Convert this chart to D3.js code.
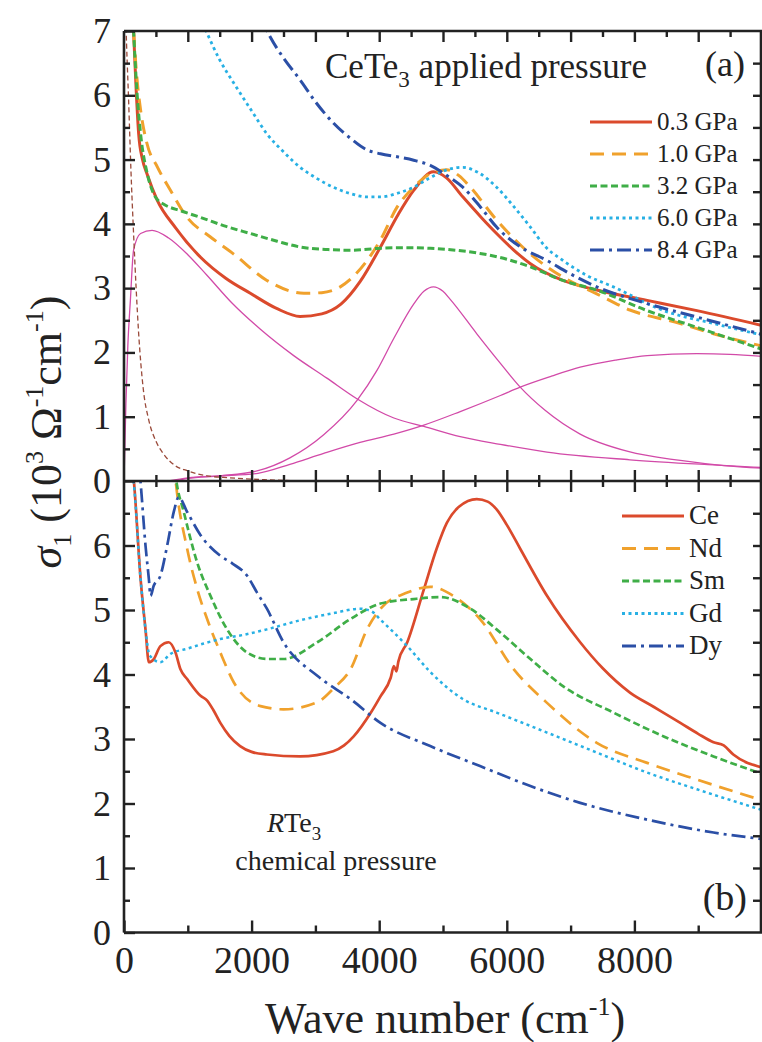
<!DOCTYPE html>
<html>
<head>
<meta charset="utf-8">
<script src="https://cdn.jsdelivr.net/npm/d3@7"></script>
<style>
  body { margin: 0; background: #fff; }
  svg text { font-family: "Liberation Serif", "Times New Roman", serif; fill: #222; }
</style>
</head>
<body>
<div id="chart"></div>
<script>
// panel (a): CeTe3 under applied pressure, [wave number cm-1, sigma1 (10^3 /ohm cm)]
var p03 = [[100,8.0],[150,7.0],[190,6.1],[230,5.4],[290,5.0],[360,4.78],[520,4.37],[800,3.95],[1200,3.48],[1600,3.15],[1980,2.92],[2400,2.68],[2760,2.56],[3100,2.6],[3400,2.75],[3700,3.1],[4020,3.64],[4300,4.15],[4540,4.52],[4850,4.81],[5050,4.72],[5310,4.42],[5600,4.1],[5840,3.85],[6100,3.6],[6370,3.38],[6880,3.12],[7410,2.97],[8200,2.81],[8980,2.65],[10000,2.42]];
var p10 = [[100,8.0],[150,7.0],[200,6.3],[260,5.77],[360,5.25],[520,4.89],[730,4.52],[990,4.1],[1350,3.8],[1720,3.53],[2240,3.12],[2820,2.92],[3100,2.93],[3390,3.02],[3810,3.43],[4020,3.75],[4280,4.26],[4540,4.57],[4800,4.78],[5060,4.84],[5250,4.75],[5420,4.58],[5840,4.06],[6370,3.53],[6880,3.17],[7410,2.91],[7930,2.66],[8720,2.45],[9240,2.29],[10000,2.1]];
var p32 = [[100,8.0],[150,7.0],[200,6.1],[260,5.4],[360,4.8],[450,4.5],[520,4.38],[630,4.3],[900,4.2],[1200,4.1],[1600,3.96],[1980,3.85],[2400,3.73],[2760,3.64],[3200,3.6],[3540,3.59],[4020,3.62],[4400,3.63],[4800,3.62],[5200,3.59],[5580,3.54],[6000,3.45],[6370,3.33],[6880,3.12],[7410,2.97],[8200,2.65],[8980,2.39],[10000,2.05]];
var p60 = [[1150,7.3],[1300,6.97],[1500,6.55],[1720,6.19],[2000,5.76],[2240,5.4],[2500,5.12],[2760,4.88],[3000,4.72],[3280,4.57],[3550,4.47],[3810,4.42],[4020,4.42],[4300,4.48],[4540,4.57],[4800,4.72],[5060,4.84],[5310,4.88],[5550,4.8],[5840,4.57],[6100,4.28],[6370,3.95],[6600,3.65],[6880,3.43],[7250,3.2],[7670,3.02],[8460,2.65],[9240,2.45],[10000,2.27]];
var p84 = [[2100,7.3],[2290,6.91],[2500,6.58],[2760,6.24],[3000,5.9],[3280,5.57],[3550,5.33],[3810,5.15],[4020,5.09],[4300,5.04],[4540,4.99],[4800,4.91],[5050,4.76],[5310,4.57],[5580,4.27],[5840,3.95],[6200,3.65],[6630,3.43],[7000,3.22],[7410,3.02],[8200,2.76],[8980,2.55],[10000,2.28]];

// fit components of the 0.3 GPa spectrum
var lorA = [[0,0],[30,1.2],[60,2.1],[100,2.81],[150,3.59],[260,3.85],[440,3.9],[700,3.78],[1000,3.52],[1300,3.2],[1700,2.76],[2138,2.36],[2660,1.95],[3180,1.6],[3650,1.28],[4230,0.98],[4700,0.85],[5270,0.69],[5900,0.57],[6630,0.45],[7930,0.33],[9240,0.25],[10000,0.21]];
var lorB = [[800,0.0],[1000,0.04],[1500,0.08],[2100,0.16],[2600,0.36],[3130,0.72],[3650,1.25],[3965,1.72],[4230,2.22],[4540,2.75],[4700,2.95],[4850,3.02],[5000,2.95],[5110,2.83],[5530,2.29],[5900,1.83],[6210,1.46],[6600,1.1],[7150,0.73],[7900,0.46],[8720,0.32],[9400,0.24],[10000,0.2]];
var lorC = [[700,0.0],[1000,0.05],[1500,0.08],[2100,0.12],[2600,0.26],[3130,0.43],[3700,0.6],[4230,0.73],[4700,0.87],[5270,1.08],[5900,1.33],[6210,1.46],[6700,1.63],[7150,1.77],[7700,1.88],[8200,1.95],[8980,1.98],[9500,1.97],[10000,1.94]];
var drude = [[10,7.8],[40,6.8],[72,5.93],[110,4.8],[150,3.85],[190,3.0],[230,2.29],[300,1.45],[390,0.94],[500,0.62],[620,0.42],[800,0.24],[990,0.16],[1300,0.08],[1660,0.05],[2200,0.02],[2800,0.0]];

// panel (b): RTe3, chemical pressure
var ce = [[120,7.3],[150,7.05],[260,5.48],[337,4.7],[390,4.19],[467,4.24],[570,4.44],[700,4.5],[807,4.34],[885,4.08],[990,3.93],[1200,3.67],[1300,3.6],[1400,3.45],[1510,3.25],[1650,3.05],[1820,2.89],[2000,2.8],[2240,2.76],[2760,2.73],[3280,2.81],[3450,2.9],[3600,3.04],[3870,3.41],[4020,3.66],[4180,3.95],[4230,4.13],[4270,4.05],[4300,4.2],[4440,4.5],[4700,5.32],[4900,5.95],[5060,6.35],[5250,6.6],[5530,6.72],[5700,6.68],[5840,6.56],[6000,6.32],[6210,5.95],[6630,5.22],[7150,4.5],[7500,4.1],[7930,3.72],[8300,3.5],[8720,3.25],[9000,3.08],[9240,2.95],[9400,2.9],[9550,2.76],[10000,2.56]];
var nd = [[780,7.3],[810,7.0],[990,5.95],[1146,5.33],[1303,4.86],[1510,4.34],[1720,3.88],[2140,3.51],[2500,3.46],[3030,3.57],[3300,3.8],[3550,4.08],[3810,4.7],[4020,5.02],[4440,5.27],[4800,5.36],[5160,5.22],[5580,4.86],[6110,4.08],[6630,3.56],[7410,2.94],[8200,2.63],[8980,2.37],[10000,2.05]];
var sm = [[780,7.3],[820,7.0],[937,6.52],[1146,5.74],[1355,5.22],[1616,4.7],[1930,4.34],[2250,4.24],[2500,4.24],[3030,4.5],[3550,4.86],[4020,5.1],[4540,5.17],[4960,5.2],[5430,5.02],[5840,4.7],[6370,4.24],[6880,3.82],[7670,3.41],[8460,3.04],[9240,2.73],[10000,2.46]];
var gd = [[100,7.3],[150,7.0],[260,5.48],[337,4.7],[400,4.3],[570,4.19],[730,4.32],[990,4.4],[1250,4.48],[1510,4.55],[1900,4.62],[2240,4.7],[2760,4.84],[3280,4.95],[3700,5.02],[3880,4.98],[4020,4.85],[4440,4.44],[4800,4.04],[5310,3.62],[5840,3.41],[6630,3.1],[7410,2.79],[8200,2.48],[8980,2.22],[10000,1.9]];
var dy = [[230,7.3],[258,7.0],[337,6.0],[390,5.48],[415,5.22],[467,5.38],[570,5.53],[677,6.0],[780,6.52],[858,6.75],[990,6.52],[1200,6.16],[1510,5.84],[1700,5.72],[1930,5.53],[2085,5.27],[2240,5.02],[2500,4.5],[3030,3.98],[3550,3.62],[4020,3.25],[4800,2.89],[5580,2.58],[6370,2.27],[7150,2.01],[8200,1.75],[9240,1.55],[10000,1.45]];

var labelsA = ["0.3 GPa", "1.0 GPa", "3.2 GPa", "6.0 GPa", "8.4 GPa"];
var labelsB = ["Ce", "Nd", "Sm", "Gd", "Dy"];
var yTicksA = [0, 1, 2, 3, 4, 5, 6, 7];
var yTicksB = [0, 1, 2, 3, 4, 5, 6];
var xTickLabels = [0, 2000, 4000, 6000, 8000];

var width = 762, height = 1042;
var pLeft = 124, pRight = 762, pTop = 31, pMid = 481, pBottom = 932.5;

var colors = ["#db4a2c", "#f0a12c", "#3fae47", "#27b0e4", "#2b4fa6"];
var dashes = [null, "14,8", "7,3.5", "3,3.5", "14,5,3,5"];
var widths = [3, 3, 3, 2.8, 3];

var x = d3.scaleLinear().domain([0, 10000]).range([pLeft, pRight]);
var yA = d3.scaleLinear().domain([0, 7]).range([pMid, pTop]);
var yB = d3.scaleLinear().domain([0, 7]).range([pBottom, pMid]);

var svg = d3.select("#chart").append("svg")
    .attr("width", width)
    .attr("height", height);

svg.append("clipPath").attr("id", "clipA")
  .append("rect").attr("x", pLeft).attr("y", pTop).attr("width", pRight - pLeft).attr("height", pMid - pTop);
svg.append("clipPath").attr("id", "clipB")
  .append("rect").attr("x", pLeft).attr("y", pMid).attr("width", pRight - pLeft).attr("height", pBottom - pMid);

function lineFor(y) {
  return d3.line()
    .x(function(d) { return x(d[0]); })
    .y(function(d) { return y(d[1]); })
    .curve(d3.curveMonotoneX);
}

var gA = svg.append("g").attr("clip-path", "url(#clipA)");
var gB = svg.append("g").attr("clip-path", "url(#clipB)");

// fit components first (thin)
[lorA, lorB, lorC].forEach(function(s) {
  gA.append("path").attr("d", lineFor(yA)(s))
    .attr("fill", "none").attr("stroke", "#d24aa8").attr("stroke-width", 1.3);
});
gA.append("path").attr("d", lineFor(yA)(drude))
  .attr("fill", "none").attr("stroke", "#9a4a3a").attr("stroke-width", 1.3)
  .attr("stroke-dasharray", "5,3");

[p03, p10, p32, p60, p84].forEach(function(s, i) {
  gA.append("path").attr("d", lineFor(yA)(s))
    .attr("fill", "none").attr("stroke", colors[i]).attr("stroke-width", widths[i])
    .attr("stroke-dasharray", dashes[i]);
});
[ce, nd, sm, gd, dy].forEach(function(s, i) {
  gB.append("path").attr("d", lineFor(yB)(s))
    .attr("fill", "none").attr("stroke", colors[i]).attr("stroke-width", widths[i] - 0.3)
    .attr("stroke-dasharray", dashes[i]);
});

// axes
function styleAxis(g) {
  g.attr("font-family", null);
  g.selectAll("path.domain").remove();
  g.selectAll("line").attr("stroke", "#222").attr("stroke-width", 2.4);
  g.selectAll("text").attr("fill", "#222");
}
function tickRange(a, b, step) { return d3.range(a, b + 1e-9, step); }

// y axes
[[yA, yTicksA], [yB, yTicksB]].forEach(function(c) {
  var y = c[0];
  svg.append("g").attr("transform", "translate(" + pLeft + ",0)")
    .call(d3.axisLeft(y).tickValues(tickRange(0.5, 6.5, 1)).tickSize(-6).tickFormat(""))
    .call(styleAxis);
  svg.append("g").attr("transform", "translate(" + pLeft + ",0)")
    .call(d3.axisLeft(y).tickValues(c[1]).tickSize(-11).tickPadding(13).tickFormat(d3.format("d")))
    .call(styleAxis)
    .selectAll("text").attr("font-size", 36);
  svg.append("g").attr("transform", "translate(" + pRight + ",0)")
    .call(d3.axisRight(y).tickValues(tickRange(0.5, 6.5, 0.5)).tickSize(-9).tickFormat(""))
    .call(styleAxis);
});

// x axes: top of (a), middle boundary, bottom of (b)
svg.append("g").attr("transform", "translate(0," + pTop + ")")
  .call(d3.axisTop(x).tickValues(tickRange(500, 9500, 1000)).tickSize(-6).tickFormat(""))
  .call(styleAxis);
svg.append("g").attr("transform", "translate(0," + pTop + ")")
  .call(d3.axisTop(x).tickValues(tickRange(1000, 9000, 1000)).tickSize(-11).tickFormat(""))
  .call(styleAxis);
[-1, 1].forEach(function(dir) {
  svg.append("g").attr("transform", "translate(0," + pMid + ")")
    .call(d3.axisTop(x).tickValues(tickRange(500, 9500, 1000)).tickSize(6 * dir).tickFormat(""))
    .call(styleAxis);
  svg.append("g").attr("transform", "translate(0," + pMid + ")")
    .call(d3.axisTop(x).tickValues(tickRange(1000, 9000, 1000)).tickSize(11 * dir).tickFormat(""))
    .call(styleAxis);
});
svg.append("g").attr("transform", "translate(0," + pBottom + ")")
  .call(d3.axisBottom(x).tickValues(tickRange(1000, 9000, 2000)).tickSize(-7).tickFormat(""))
  .call(styleAxis);
svg.append("g").attr("transform", "translate(0," + pBottom + ")")
  .call(d3.axisBottom(x).tickValues(xTickLabels).tickSize(-12).tickPadding(14).tickFormat(d3.format("d")))
  .call(styleAxis)
  .selectAll("text").attr("font-size", 38);

// frame
var frame = svg.append("g").attr("stroke", "#222").attr("stroke-width", 2.6).attr("fill", "none");
frame.append("line").attr("x1", pLeft).attr("x2", pLeft).attr("y1", pTop).attr("y2", pBottom);
frame.append("line").attr("x1", pRight - 1).attr("x2", pRight - 1).attr("y1", pTop).attr("y2", pBottom);
frame.append("line").attr("x1", pLeft).attr("x2", pRight).attr("y1", pTop).attr("y2", pTop);
frame.append("line").attr("x1", pLeft).attr("x2", pRight).attr("y1", pMid).attr("y2", pMid);
frame.append("line").attr("x1", pLeft).attr("x2", pRight).attr("y1", pBottom).attr("y2", pBottom);

// legends
function legend(labels, lx, ly0, step, fs, sw) {
  labels.forEach(function(t, i) {
    var yy = ly0 + i * step;
    svg.append("line").attr("x1", lx).attr("x2", lx + 62).attr("y1", yy - 8).attr("y2", yy - 8)
      .attr("stroke", colors[i]).attr("stroke-width", sw[i]).attr("stroke-dasharray", dashes[i]);
    svg.append("text").attr("x", lx + 67).attr("y", yy).attr("font-size", fs).text(t);
  });
}
legend(labelsA, 590, 130, 32, 25, widths);
legend(labelsB, 622, 524, 32.5, 27, widths);

// panel annotations
var ta = svg.append("text").attr("x", 325).attr("y", 78).attr("font-size", 35);
ta.append("tspan").text("CeTe");
ta.append("tspan").attr("font-size", 23).attr("dy", 9).text("3");
ta.append("tspan").attr("dy", -9).text(" applied pressure");
svg.append("text").attr("x", 745).attr("y", 76).attr("text-anchor", "end").attr("font-size", 36).text("(a)");
svg.append("text").attr("x", 747).attr("y", 910).attr("text-anchor", "end").attr("font-size", 38).text("(b)");

var tb = svg.append("text").attr("x", 267).attr("y", 832).attr("font-size", 28);
tb.append("tspan").attr("font-style", "italic").text("R");
tb.append("tspan").text("Te");
tb.append("tspan").attr("font-size", 19).attr("dy", 8).text("3");
svg.append("text").attr("x", 336).attr("y", 870).attr("text-anchor", "middle").attr("font-size", 28).text("chemical pressure");

// axis titles
var xt = svg.append("text").attr("x", 445).attr("y", 1033).attr("text-anchor", "middle").attr("font-size", 44);
xt.append("tspan").text("Wave number (cm");
xt.append("tspan").attr("font-size", 26).attr("dy", -18).text("-1");
xt.append("tspan").attr("dy", 18).text(")");

var yt = svg.append("text").attr("transform", "translate(61,432) rotate(-90)")
  .attr("text-anchor", "middle").attr("font-size", 44);
yt.append("tspan").attr("font-style", "italic").text("σ");
yt.append("tspan").attr("font-size", 26).attr("dy", 10).text("1");
yt.append("tspan").attr("dy", -10).text(" (10");
yt.append("tspan").attr("font-size", 26).attr("dy", -18).text("3");
yt.append("tspan").attr("dy", 18).text(" Ω");
yt.append("tspan").attr("font-size", 26).attr("dy", -18).text("-1");
yt.append("tspan").attr("dy", 18).text("cm");
yt.append("tspan").attr("font-size", 26).attr("dy", -18).text("-1");
yt.append("tspan").attr("dy", 18).text(")");
</script>
</body>
</html>
